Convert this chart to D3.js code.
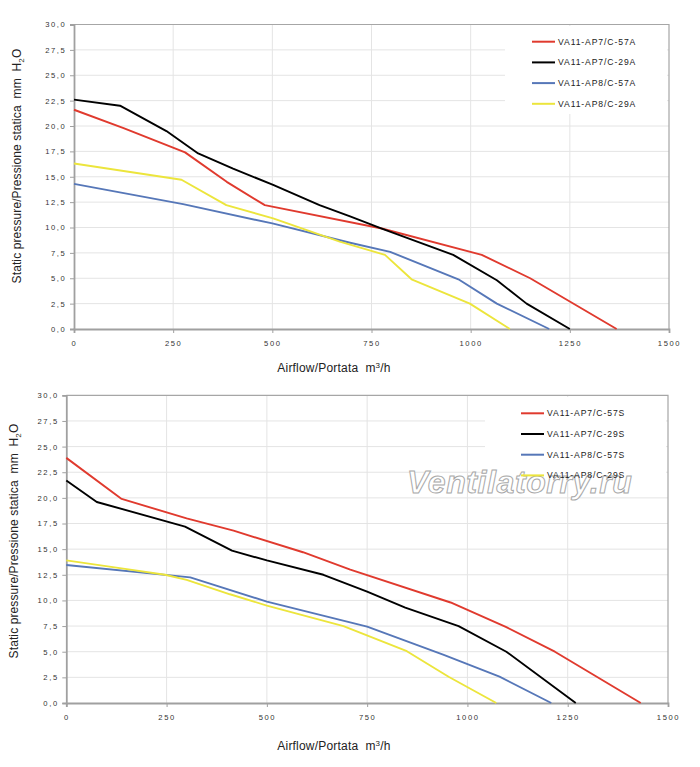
<!DOCTYPE html>
<html><head><meta charset="utf-8">
<script src="https://cdn.jsdelivr.net/npm/d3@7"></script>
<style>body{margin:0;background:#fff}svg{display:block}text{font-family:Arial,"Liberation Sans",sans-serif}</style>
</head><body><svg id="c" width="700" height="767"></svg>
<script>
// ---------- data ----------
const xTicks = [0, 250, 500, 750, 1000, 1250, 1500];
const yTicks = [0, 2.5, 5, 7.5, 10, 12.5, 15, 17.5, 20, 22.5, 25, 27.5, 30];

// top chart (A)
const labelsA = ["VA11-AP7/C-57A", "VA11-AP7/C-29A", "VA11-AP8/C-57A", "VA11-AP8/C-29A"];
const ap7_57A_x = [0, 125, 280, 385, 481, 776, 1028, 1150, 1368];
const ap7_57A_y = [21.6, 19.8, 17.4, 14.5, 12.2, 9.9, 7.3, 5.0, 0];
const ap7_29A_x = [0, 116, 233, 313, 401, 502, 619, 696, 776, 956, 1066, 1141, 1250];
const ap7_29A_y = [22.6, 22.0, 19.5, 17.3, 15.8, 14.2, 12.2, 11.1, 9.9, 7.3, 4.8, 2.5, 0];
const ap8_57A_x = [0, 275, 500, 696, 797, 969, 1066, 1198];
const ap8_57A_y = [14.3, 12.3, 10.4, 8.5, 7.6, 4.9, 2.5, 0];
const ap8_29A_x = [0, 271, 384, 502, 670, 784, 851, 998, 1099];
const ap8_29A_y = [16.3, 14.7, 12.2, 10.9, 8.6, 7.3, 4.9, 2.5, 0];

// bottom chart (S)
const labelsS = ["VA11-AP7/C-57S", "VA11-AP7/C-29S", "VA11-AP8/C-57S", "VA11-AP8/C-29S"];
const ap7_57S_x = [0, 138, 300, 417, 590, 708, 958, 1097, 1218, 1432];
const ap7_57S_y = [23.9, 19.9, 18.0, 16.8, 14.7, 13.0, 9.8, 7.4, 5.0, 0];
const ap7_29S_x = [0, 76, 296, 413, 500, 641, 750, 845, 978, 1097, 1270];
const ap7_29S_y = [21.7, 19.6, 17.2, 14.85, 13.9, 12.5, 10.85, 9.3, 7.5, 5.0, 0];
const ap8_57S_x = [0, 309, 500, 750, 941, 1080, 1209];
const ap8_57S_y = [13.45, 12.25, 9.88, 7.44, 4.7, 2.57, 0];
const ap8_29S_x = [0, 142, 246, 300, 408, 500, 691, 849, 953, 1072];
const ap8_29S_y = [13.9, 13.1, 12.5, 12.0, 10.6, 9.5, 7.5, 5.05, 2.56, 0];

const seriesColors = ["#e03a2e", "#000000", "#5677b8", "#ece53c"];
const watermark = "Ventilatorry.ru";

// ---------- drawing ----------
const svg = d3.select("#c");
const fmtY = v => d3.format(".1f")(v).replace(".", ",");

function zip(xs, ys) { return xs.map((x, i) => ({x, y: ys[i]})); }

const charts = [
  {
    xr: [74, 669], yr: [329, 24.5],
    series: [zip(ap7_57A_x, ap7_57A_y), zip(ap7_29A_x, ap7_29A_y), zip(ap8_57A_x, ap8_57A_y), zip(ap8_29A_x, ap8_29A_y)],
    labels: labelsA,
    legend: {x0: 532, x1: 555, tx: 558, y0: 41.7, dy: 20.7, box: [505, 26, 162, 88]},
    yTitle: {x: 21, y: 166}, xTitle: {x: 334, y: 372},
    wm: false
  },
  {
    xr: [66.3, 668], yr: [703, 395.3],
    series: [zip(ap7_57S_x, ap7_57S_y), zip(ap7_29S_x, ap7_29S_y), zip(ap8_57S_x, ap8_57S_y), zip(ap8_29S_x, ap8_29S_y)],
    labels: labelsS,
    legend: {x0: 521, x1: 544, tx: 547, y0: 413.3, dy: 20.7, box: [485, 397, 181, 86]},
    yTitle: {x: 18, y: 541}, xTitle: {x: 334, y: 750},
    wm: true
  }
];

charts.forEach(c => {
  const x = d3.scaleLinear().domain([0, 1500]).range(c.xr);
  const y = d3.scaleLinear().domain([0, 30]).range(c.yr);
  const g = svg.append("g");

  // grid
  g.append("g").selectAll("line.h").data(yTicks.filter(v => v > 0 && v < 30)).join("line")
    .attr("x1", c.xr[0]).attr("x2", c.xr[1]).attr("y1", d => y(d)).attr("y2", d => y(d))
    .attr("stroke", "#e4e4e4").attr("stroke-width", 1);
  g.append("g").selectAll("line.v").data(xTicks.filter(v => v > 0 && v < 1500)).join("line")
    .attr("x1", d => x(d)).attr("x2", d => x(d)).attr("y1", c.yr[0]).attr("y2", c.yr[1])
    .attr("stroke", "#e4e4e4").attr("stroke-width", 1);

  // border top / right
  g.append("path")
    .attr("d", `M${c.xr[0]},${c.yr[1]}H${c.xr[1]}V${c.yr[0]}`)
    .attr("fill", "none").attr("stroke", "#a6a6a6").attr("stroke-width", 1.2);

  // legend box
  const L = c.legend;
  g.append("rect").attr("x", L.box[0]).attr("y", L.box[1]).attr("width", L.box[2]).attr("height", L.box[3]).attr("fill", "#fff");

  // axes
  const yAxis = d3.axisLeft(y).tickValues(yTicks).tickFormat(fmtY).tickSize(4).tickPadding(5);
  const xAxis = d3.axisBottom(x).tickValues(xTicks).tickFormat(d3.format("d")).tickSize(4).tickPadding(5);
  const ya = g.append("g").attr("transform", `translate(${c.xr[0]},0)`).call(yAxis);
  const xa = g.append("g").attr("transform", `translate(0,${c.yr[0]})`).call(xAxis);
  [ya, xa].forEach(a => {
    a.select(".domain").attr("stroke", "#a0a0a0").attr("stroke-width", 1.8);
    a.selectAll(".tick line").attr("stroke", "#a0a0a0").attr("stroke-width", 1);
    a.selectAll(".tick text").attr("fill", "#333").style("font-size", "7.6px").style("letter-spacing", "1.6px")
      .style("font-family", "Arial, 'Liberation Sans', sans-serif");
  });
  xa.selectAll(".tick text").attr("dy", "1.1em");
  ya.selectAll(".tick text").attr("dx", "1.4px");

  // watermark
  if (c.wm) {
    g.append("text").attr("x", 407).attr("y", 493).text(watermark)
      .style("font-size", "32px").style("font-style", "italic").style("font-weight", "bold")
      .style("letter-spacing", "0.6px")
      .attr("fill", "#fff").attr("stroke", "#a8a8a8").attr("stroke-width", 1);
  }

  // series
  const line = d3.line().x(d => x(d.x)).y(d => y(d.y));
  c.series.forEach((s, i) => {
    g.append("path").datum(s).attr("d", line).attr("fill", "none")
      .attr("stroke", seriesColors[i]).attr("stroke-width", 1.9).attr("stroke-linejoin", "round");
  });

  // legend
  c.labels.forEach((lab, i) => {
    const yy = L.y0 + i * L.dy;
    g.append("line").attr("x1", L.x0).attr("x2", L.x1).attr("y1", yy).attr("y2", yy)
      .attr("stroke", seriesColors[i]).attr("stroke-width", 2);
    g.append("text").attr("x", L.tx).attr("y", yy + 3).text(lab)
      .attr("fill", "#222").style("font-size", "8.6px").style("letter-spacing", "0.9px");
  });

  // axis titles
  const xt = g.append("text").attr("x", c.xTitle.x).attr("y", c.xTitle.y).attr("text-anchor", "middle")
    .attr("fill", "#222").style("font-size", "12px").style("letter-spacing", "0.2px");
  xt.append("tspan").text("Airflow/Portata\u00a0\u00a0m");
  xt.append("tspan").text("3").attr("dy", -4.5).style("font-size", "8px");
  xt.append("tspan").text("/h").attr("dy", 4.5);

  const yt = g.append("text").attr("transform", `translate(${c.yTitle.x},${c.yTitle.y}) rotate(-90)`)
    .attr("text-anchor", "middle").attr("fill", "#222").style("font-size", "12px").style("letter-spacing", "0.1px");
  yt.append("tspan").text("Static pressure/Pressione statica\u00a0\u00a0mm\u00a0\u00a0H");
  yt.append("tspan").text("2").attr("dy", 3).style("font-size", "8px");
  yt.append("tspan").text("O").attr("dy", -3);
});
</script></body></html>
